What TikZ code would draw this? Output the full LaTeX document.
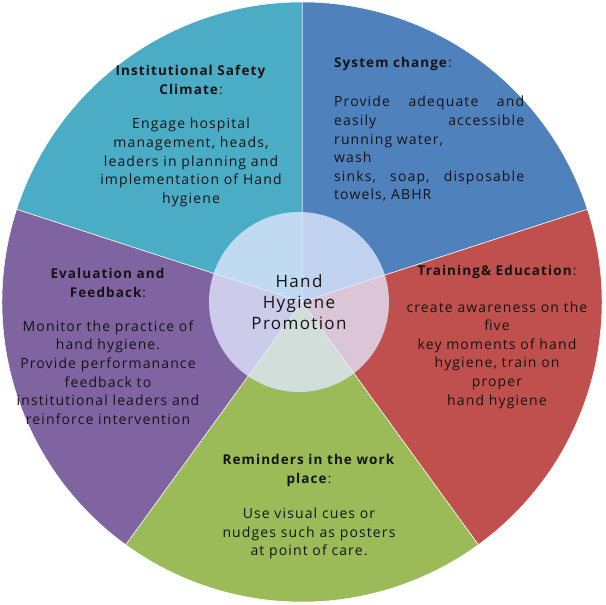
\documentclass[tikz,border=0pt]{standalone}
\usepackage{fontspec}
\setmainfont{Open Sans}[LetterSpace=8]
\usepackage{tikz}
\usetikzlibrary{positioning}
\definecolor{cSys}  {HTML}{4F81BD}
\definecolor{cTrain}{HTML}{C0504D}
\definecolor{cRem}  {HTML}{9BBB59}
\definecolor{cEval} {HTML}{8064A2}
\definecolor{cClim} {HTML}{4BACC6}
\definecolor{cHub}  {HTML}{E2E8FF}
\definecolor{cInk}  {HTML}{141414}
\tikzset{
  slice/.style={draw=white,line width=0.5pt},
  stitle/.style={align=center,inner sep=0pt,text=cInk,
                 font=\fontsize{13.5}{19}\selectfont},
  sbody/.style={align=center,inner sep=0pt,text=cInk,
                font=\fontsize{14}{18.6}\selectfont},
  hub/.style={circle,minimum size=180pt,inner sep=0pt,fill=cHub,
              fill opacity=0.78,text opacity=1,align=center,text=cInk,
              font=\fontsize{17}{21}\selectfont},
}

\begin{document}
\begin{tikzpicture}[x=1pt,y=1pt]
  \useasboundingbox (-302,-303) rectangle (303,302);
  % five slices
  \foreach \a/\c in {90/cSys,18/cTrain,-54/cRem,-126/cEval,162/cClim}
    \filldraw[slice,fill=\c] (0,0) -- (\a:300)
      arc[start angle=\a,delta angle=-72,radius=300] -- cycle;
  \node[hub] (hh) at (-3,0) {Hand\\Hygiene\\Promotion};
  % institutional safety climate
  \node[stitle] (tClim) at (-111,222.5)
    {\textbf{Institutional Safety}\\\textbf{Climate}:};
  \node[sbody] (bClim) at (-111,139.5)
    {Engage hospital\\management, heads,\\leaders in planning and\\
     implementation of Hand\\hygiene};
  % system change
  \node[stitle,anchor=west] (tSys) at (32,238) {\textbf{System change}:};
  \node[sbody,align=left,text width=190pt,anchor=west] (bSys) at (32,153)
    {Provide\hfill adequate\hfill and\\easily\hfill accessible\\
     running water,\\wash\\sinks,\hfill soap,\hfill disposable\\towels, ABHR};
  % training and education
  \node[stitle] (tTrain) at (195,30) {\textbf{Training\& Education}:};
  \node[sbody] (bTrain) at (195,-53)
    {create awareness on the\\five\\ key moments of hand\\
     hygiene, train on\\proper\\hand hygiene};
  % reminders
  \node[stitle] (tRem) at (7,-168.5)
    {\textbf{Reminders in the work}\\\textbf{place}:};
  \node[sbody] (bRem) at (7,-231.5)
    {Use visual cues or\\nudges such as posters\\at point of care.};
  % evaluation and feedback
  \node[stitle] (tEval) at (-194,19.5) {\textbf{Evaluation and}\\\textbf{Feedback}:};
  \node[sbody] (bEval) at (-194,-70.5)
    {Monitor the practice of\\hand hygiene.\\Provide performanance\\
     feedback to\\institutional leaders and\\reinforce intervention};
\end{tikzpicture}
\end{document}
